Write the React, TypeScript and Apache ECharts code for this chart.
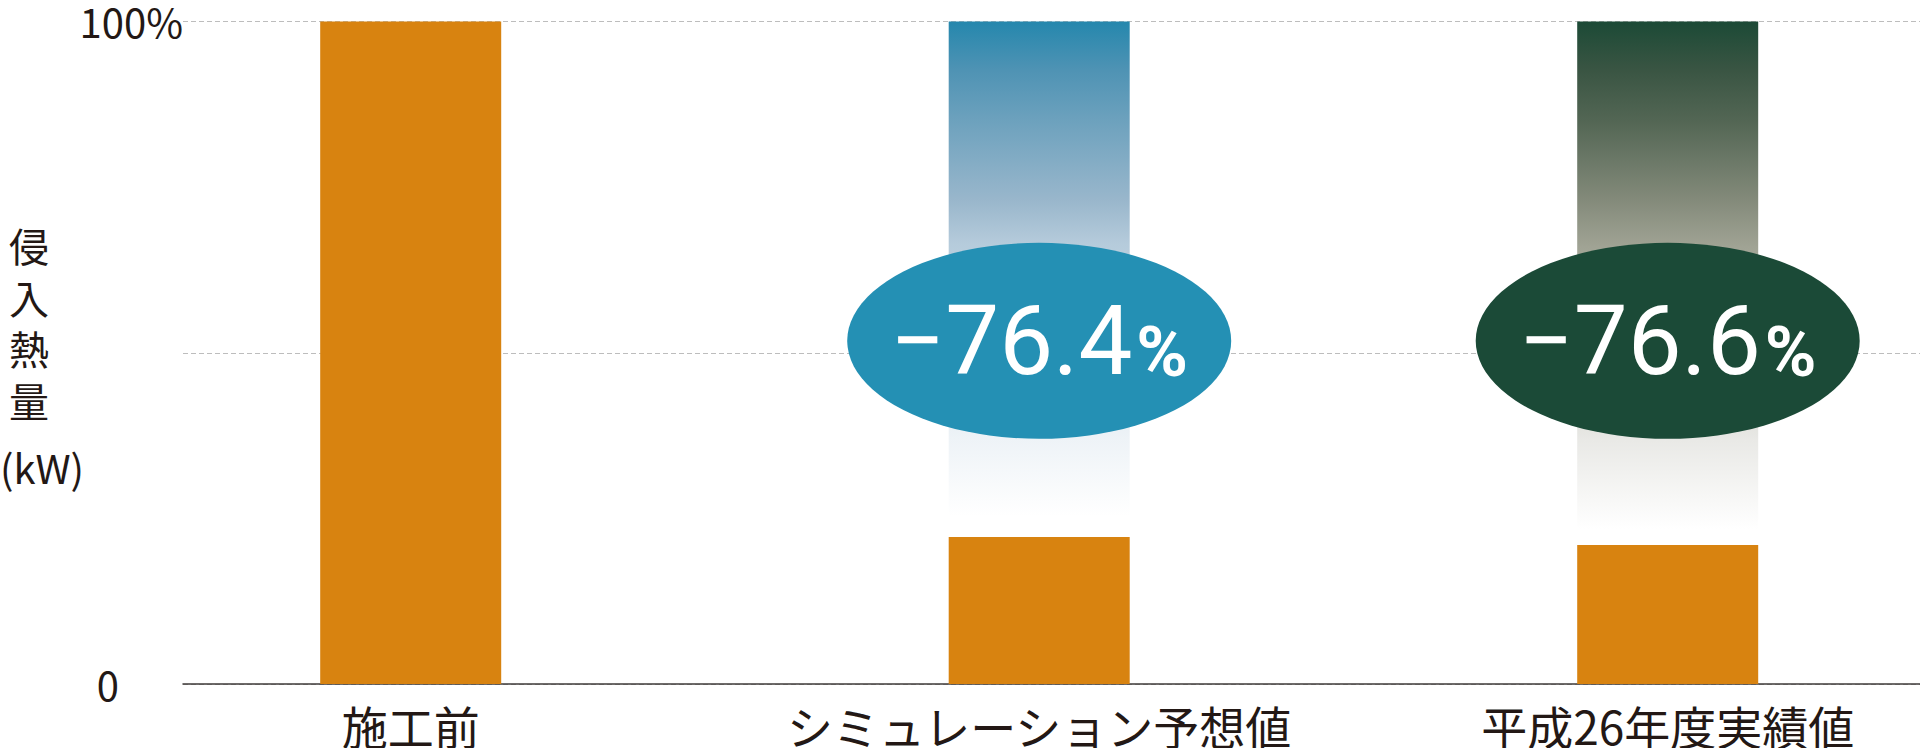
import { useEffect, useRef } from "react";
import * as echarts from "echarts";

// Heat input relative to the pre-construction level (percent of 施工前)
const CATEGORIES = ["施工前", "シミュレーション予想値", "平成26年度実績値"];
const HEAT_INPUT = [100, 22.2, 21.0];
const REDUCTIONS = ["", "−76.4", "−76.6"];
const Y_TICK_LABELS: Record<number, string> = { 0: "0", 100: "100%" };
const BADGE_LEVEL = 51.8; // where the reduction badge sits on the value axis

const INK = "#231815";
const ORANGE = "#d88310";
const BADGE_COLORS = ["", "#2490b4", "#1b4a37"];
const FADE_STOPS: [number, string][][] = [
  [],
  [[0, "#2587ad"], [0.095, "#4f93b4"], [0.19, "#6ca1bd"], [0.35, "#9ab7cc"], [0.43, "#b5cbdb"], [0.81, "#eef3f7"], [0.96, "#ffffff"], [1, "#ffffff"]],
  [[0, "#1c4a36"], [0.094, "#3a5543"], [0.19, "#536654"], [0.34, "#838a7a"], [0.43, "#a0a394"], [0.8, "#e9e9e6"], [0.97, "#ffffff"], [1, "#ffffff"]],
];

const JP = '"Noto Sans CJK JP", "Noto Sans", sans-serif';

function buildOption() {
  const fade = (i: number) =>
    FADE_STOPS[i].length
      ? new echarts.graphic.LinearGradient(0, 0, 0, 1, FADE_STOPS[i].map(([offset, color]) => ({ offset, color })))
      : "transparent";

  return {
    animation: false,
    backgroundColor: "#ffffff",
    grid: [
      { left: 183, right: 0, top: 21.5, bottom: 64 },
      { left: 410.7, right: 252.3, top: 21.5, bottom: 64 },
    ],
    xAxis: [
      {
        gridIndex: 0,
        type: "category",
        data: CATEGORIES.map(() => ""),
        axisLine: { lineStyle: { color: "#3e3a39", width: 1.5 } },
        axisTick: { show: false },
        axisLabel: { show: false },
      },
      {
        gridIndex: 1,
        type: "category",
        data: CATEGORIES,
        boundaryGap: false,
        axisLine: { show: false },
        axisTick: { show: false },
        axisLabel: { interval: 0, margin: 18, fontSize: 46, color: INK, fontFamily: JP },
      },
    ],
    yAxis: [
      {
        gridIndex: 0,
        type: "value",
        min: 0,
        max: 100,
        interval: 50,
        axisLine: { show: false },
        axisTick: { show: false },
        splitLine: { lineStyle: { color: "#bdbdbd", type: [5, 3], width: 1 } },
        axisLabel: {
          margin: 0,
          align: "right",
          formatter: (v: number) => (v === 100 ? `{a|${Y_TICK_LABELS[100]}}` : v === 0 ? `{b|${Y_TICK_LABELS[0]}}` : ""),
          rich: {
            a: { fontSize: 40, color: INK, fontFamily: JP, padding: [0, 0, 2, 0] },
            b: { fontSize: 40, color: INK, fontFamily: JP, padding: [0, 64, 0, 0] },
          },
        },
      },
      { gridIndex: 1, type: "value", min: 0, max: 100, show: false },
    ],
    graphic: [
      {
        type: "text",
        x: 29,
        y: 322.5,
        style: { text: "侵\n入\n熱\n量", fontSize: 40, fontFamily: JP, fill: INK, align: "center", verticalAlign: "middle", lineHeight: 51.5 },
      },
      {
        type: "text",
        x: 42,
        y: 467,
        style: { text: "(kW)", fontSize: 40, fontFamily: JP, fill: INK, align: "center", verticalAlign: "middle" },
      },
    ],
    series: [
      {
        type: "bar",
        xAxisIndex: 1,
        yAxisIndex: 1,
        stack: "total",
        barWidth: 181,
        clip: false,
        silent: true,
        itemStyle: { color: ORANGE },
        data: HEAT_INPUT,
      },
      {
        type: "bar",
        xAxisIndex: 1,
        yAxisIndex: 1,
        stack: "total",
        barWidth: 181,
        clip: false,
        silent: true,
        data: HEAT_INPUT.map((v, i) => ({ value: 100 - v, itemStyle: { color: fade(i) } })),
      },
      {
        type: "scatter",
        xAxisIndex: 1,
        yAxisIndex: 1,
        clip: false,
        silent: true,
        z: 5,
        symbol: "circle",
        symbolSize: [384, 196],
        itemStyle: { opacity: 1 },
        label: {
          show: true,
          position: "inside",
          rich: {
            n: { fontSize: 96, color: "#ffffff", fontFamily: "Roboto" },
            p: { fontSize: 70, fontWeight: "bold", color: "#ffffff", fontFamily: "Roboto", padding: [22, 0, 0, 4] },
          },
        },
        data: REDUCTIONS.map((r, i) =>
          r
            ? { value: [i, BADGE_LEVEL], itemStyle: { color: BADGE_COLORS[i], opacity: 1 }, label: { formatter: `{n|${r}}{p|%}` } }
            : null,
        ).filter(Boolean),
      },
    ],
  };
}

export default function App() {
  const boxRef = useRef<HTMLDivElement>(null);
  useEffect(() => {
    if (!boxRef.current) return;
    const inst = echarts.init(boxRef.current, undefined, { renderer: "svg" });
    inst.setOption(buildOption());
    return () => inst.dispose();
  }, []);
  return <div ref={boxRef} style={{ position: "absolute", left: 0, top: 0, width: 1920, height: 748 }} />;
}
